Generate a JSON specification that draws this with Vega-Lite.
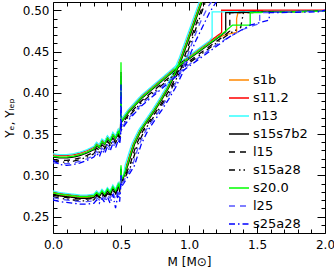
{
"$schema":"https://vega.github.io/schema/vega-lite/v6.json",
"width":272,"height":231,
"autosize":{"type":"none"},
"padding":{"left":53,"top":2,"right":9,"bottom":42},
"config":{"view":{"stroke":"black","strokeWidth":1},"font":"DejaVu Sans",
"axis":{"domain":false,"grid":false,"labelFlush":false,"tickColor":"black","labelColor":"black","titleColor":"black","labelFont":"DejaVu Sans","labelFontSize":12,"titleFont":"DejaVu Sans","titleFontSize":12,"titleFontWeight":"normal","tickWidth":1}},
"data":{"values":[
{"m":"s1b","c":"l","x":0,"y":0.323},{"m":"s1b","c":"l","x":0.05,"y":0.322},{"m":"s1b","c":"l","x":0.1,"y":0.322},{"m":"s1b","c":"l","x":0.15,"y":0.323},{"m":"s1b","c":"l","x":0.2,"y":0.325},{"m":"s1b","c":"l","x":0.25,"y":0.328},{"m":"s1b","c":"l","x":0.3,"y":0.332},{"m":"s1b","c":"l","x":0.32,"y":0.337},{"m":"s1b","c":"l","x":0.34,"y":0.334},{"m":"s1b","c":"l","x":0.36,"y":0.341},{"m":"s1b","c":"l","x":0.38,"y":0.338},{"m":"s1b","c":"l","x":0.4,"y":0.345},{"m":"s1b","c":"l","x":0.42,"y":0.341},{"m":"s1b","c":"l","x":0.44,"y":0.349},{"m":"s1b","c":"l","x":0.46,"y":0.345},{"m":"s1b","c":"l","x":0.48,"y":0.353},{"m":"s1b","c":"l","x":0.49,"y":0.35},{"m":"s1b","c":"l","x":0.497,"y":0.357},{"m":"s1b","c":"l","x":0.5,"y":0.42},{"m":"s1b","c":"l","x":0.503,"y":0.365},{"m":"s1b","c":"l","x":0.55,"y":0.376},{"m":"s1b","c":"l","x":0.6,"y":0.385},{"m":"s1b","c":"l","x":0.65,"y":0.394},{"m":"s1b","c":"l","x":0.7,"y":0.401},{"m":"s1b","c":"l","x":0.75,"y":0.408},{"m":"s1b","c":"l","x":0.8,"y":0.415},{"m":"s1b","c":"l","x":0.85,"y":0.422},{"m":"s1b","c":"l","x":0.9,"y":0.429},{"m":"s1b","c":"l","x":0.95,"y":0.436},{"m":"s1b","c":"l","x":1,"y":0.442},{"m":"s1b","c":"l","x":1.05,"y":0.448},{"m":"s1b","c":"l","x":1.1,"y":0.454},{"m":"s1b","c":"l","x":1.15,"y":0.46},{"m":"s1b","c":"l","x":1.2,"y":0.466},{"m":"s1b","c":"l","x":1.28,"y":0.471},{"m":"s1b","c":"l","x":1.35,"y":0.473},{"m":"s1b","c":"l","x":1.35,"y":0.49},{"m":"s1b","c":"l","x":1.36,"y":0.497},{"m":"s1b","c":"l","x":2,"y":0.499},
{"m":"s1b","c":"e","x":0,"y":0.278},{"m":"s1b","c":"e","x":0.05,"y":0.276},{"m":"s1b","c":"e","x":0.1,"y":0.275},{"m":"s1b","c":"e","x":0.15,"y":0.274},{"m":"s1b","c":"e","x":0.2,"y":0.273},{"m":"s1b","c":"e","x":0.25,"y":0.273},{"m":"s1b","c":"e","x":0.3,"y":0.274},{"m":"s1b","c":"e","x":0.32,"y":0.278},{"m":"s1b","c":"e","x":0.34,"y":0.275},{"m":"s1b","c":"e","x":0.36,"y":0.28},{"m":"s1b","c":"e","x":0.38,"y":0.276},{"m":"s1b","c":"e","x":0.4,"y":0.282},{"m":"s1b","c":"e","x":0.42,"y":0.278},{"m":"s1b","c":"e","x":0.44,"y":0.285},{"m":"s1b","c":"e","x":0.46,"y":0.28},{"m":"s1b","c":"e","x":0.48,"y":0.288},{"m":"s1b","c":"e","x":0.49,"y":0.284},{"m":"s1b","c":"e","x":0.497,"y":0.291},{"m":"s1b","c":"e","x":0.5,"y":0.305},{"m":"s1b","c":"e","x":0.503,"y":0.294},{"m":"s1b","c":"e","x":0.52,"y":0.298},{"m":"s1b","c":"e","x":0.55,"y":0.312},{"m":"s1b","c":"e","x":0.58,"y":0.328},{"m":"s1b","c":"e","x":0.6,"y":0.338},{"m":"s1b","c":"e","x":0.65,"y":0.355},{"m":"s1b","c":"e","x":0.7,"y":0.367},{"m":"s1b","c":"e","x":0.75,"y":0.379},{"m":"s1b","c":"e","x":0.8,"y":0.392},{"m":"s1b","c":"e","x":0.85,"y":0.406},{"m":"s1b","c":"e","x":0.9,"y":0.423},{"m":"s1b","c":"e","x":0.95,"y":0.443},{"m":"s1b","c":"e","x":1,"y":0.466},{"m":"s1b","c":"e","x":1.05,"y":0.489},{"m":"s1b","c":"e","x":1.1,"y":0.512},{"m":"s1b","c":"e","x":1.15,"y":0.535},
{"m":"s11.2","c":"l","x":0,"y":0.325},{"m":"s11.2","c":"l","x":0.05,"y":0.324},{"m":"s11.2","c":"l","x":0.1,"y":0.324},{"m":"s11.2","c":"l","x":0.15,"y":0.325},{"m":"s11.2","c":"l","x":0.2,"y":0.327},{"m":"s11.2","c":"l","x":0.25,"y":0.33},{"m":"s11.2","c":"l","x":0.3,"y":0.334},{"m":"s11.2","c":"l","x":0.32,"y":0.339},{"m":"s11.2","c":"l","x":0.34,"y":0.336},{"m":"s11.2","c":"l","x":0.36,"y":0.343},{"m":"s11.2","c":"l","x":0.38,"y":0.34},{"m":"s11.2","c":"l","x":0.4,"y":0.347},{"m":"s11.2","c":"l","x":0.42,"y":0.343},{"m":"s11.2","c":"l","x":0.44,"y":0.351},{"m":"s11.2","c":"l","x":0.46,"y":0.347},{"m":"s11.2","c":"l","x":0.48,"y":0.355},{"m":"s11.2","c":"l","x":0.49,"y":0.352},{"m":"s11.2","c":"l","x":0.497,"y":0.359},{"m":"s11.2","c":"l","x":0.5,"y":0.415},{"m":"s11.2","c":"l","x":0.503,"y":0.367},{"m":"s11.2","c":"l","x":0.55,"y":0.378},{"m":"s11.2","c":"l","x":0.6,"y":0.387},{"m":"s11.2","c":"l","x":0.65,"y":0.396},{"m":"s11.2","c":"l","x":0.7,"y":0.403},{"m":"s11.2","c":"l","x":0.75,"y":0.41},{"m":"s11.2","c":"l","x":0.8,"y":0.417},{"m":"s11.2","c":"l","x":0.85,"y":0.424},{"m":"s11.2","c":"l","x":0.9,"y":0.431},{"m":"s11.2","c":"l","x":0.95,"y":0.438},{"m":"s11.2","c":"l","x":1,"y":0.444},{"m":"s11.2","c":"l","x":1.05,"y":0.45},{"m":"s11.2","c":"l","x":1.1,"y":0.456},{"m":"s11.2","c":"l","x":1.15,"y":0.462},{"m":"s11.2","c":"l","x":1.2,"y":0.468},{"m":"s11.2","c":"l","x":1.24,"y":0.473},{"m":"s11.2","c":"l","x":1.24,"y":0.5},{"m":"s11.2","c":"l","x":2,"y":0.5},
{"m":"s11.2","c":"e","x":0,"y":0.28},{"m":"s11.2","c":"e","x":0.05,"y":0.278},{"m":"s11.2","c":"e","x":0.1,"y":0.277},{"m":"s11.2","c":"e","x":0.15,"y":0.276},{"m":"s11.2","c":"e","x":0.2,"y":0.275},{"m":"s11.2","c":"e","x":0.25,"y":0.275},{"m":"s11.2","c":"e","x":0.3,"y":0.276},{"m":"s11.2","c":"e","x":0.32,"y":0.28},{"m":"s11.2","c":"e","x":0.34,"y":0.277},{"m":"s11.2","c":"e","x":0.36,"y":0.282},{"m":"s11.2","c":"e","x":0.38,"y":0.278},{"m":"s11.2","c":"e","x":0.4,"y":0.284},{"m":"s11.2","c":"e","x":0.42,"y":0.28},{"m":"s11.2","c":"e","x":0.44,"y":0.287},{"m":"s11.2","c":"e","x":0.46,"y":0.282},{"m":"s11.2","c":"e","x":0.48,"y":0.29},{"m":"s11.2","c":"e","x":0.49,"y":0.286},{"m":"s11.2","c":"e","x":0.497,"y":0.293},{"m":"s11.2","c":"e","x":0.5,"y":0.3},{"m":"s11.2","c":"e","x":0.503,"y":0.296},{"m":"s11.2","c":"e","x":0.52,"y":0.3},{"m":"s11.2","c":"e","x":0.54,"y":0.312},{"m":"s11.2","c":"e","x":0.57,"y":0.328},{"m":"s11.2","c":"e","x":0.59,"y":0.338},{"m":"s11.2","c":"e","x":0.64,"y":0.355},{"m":"s11.2","c":"e","x":0.69,"y":0.367},{"m":"s11.2","c":"e","x":0.74,"y":0.379},{"m":"s11.2","c":"e","x":0.79,"y":0.392},{"m":"s11.2","c":"e","x":0.84,"y":0.406},{"m":"s11.2","c":"e","x":0.89,"y":0.423},{"m":"s11.2","c":"e","x":0.94,"y":0.443},{"m":"s11.2","c":"e","x":0.99,"y":0.466},{"m":"s11.2","c":"e","x":1.04,"y":0.489},{"m":"s11.2","c":"e","x":1.09,"y":0.512},{"m":"s11.2","c":"e","x":1.14,"y":0.535},
{"m":"n13","c":"l","x":0,"y":0.326},{"m":"n13","c":"l","x":0.05,"y":0.325},{"m":"n13","c":"l","x":0.1,"y":0.325},{"m":"n13","c":"l","x":0.15,"y":0.326},{"m":"n13","c":"l","x":0.2,"y":0.328},{"m":"n13","c":"l","x":0.25,"y":0.331},{"m":"n13","c":"l","x":0.3,"y":0.335},{"m":"n13","c":"l","x":0.32,"y":0.34},{"m":"n13","c":"l","x":0.34,"y":0.337},{"m":"n13","c":"l","x":0.36,"y":0.344},{"m":"n13","c":"l","x":0.38,"y":0.341},{"m":"n13","c":"l","x":0.4,"y":0.348},{"m":"n13","c":"l","x":0.42,"y":0.344},{"m":"n13","c":"l","x":0.44,"y":0.352},{"m":"n13","c":"l","x":0.46,"y":0.348},{"m":"n13","c":"l","x":0.48,"y":0.356},{"m":"n13","c":"l","x":0.49,"y":0.353},{"m":"n13","c":"l","x":0.497,"y":0.36},{"m":"n13","c":"l","x":0.5,"y":0.42},{"m":"n13","c":"l","x":0.503,"y":0.368},{"m":"n13","c":"l","x":0.55,"y":0.379},{"m":"n13","c":"l","x":0.6,"y":0.388},{"m":"n13","c":"l","x":0.65,"y":0.397},{"m":"n13","c":"l","x":0.7,"y":0.404},{"m":"n13","c":"l","x":0.75,"y":0.411},{"m":"n13","c":"l","x":0.8,"y":0.418},{"m":"n13","c":"l","x":0.85,"y":0.425},{"m":"n13","c":"l","x":0.9,"y":0.432},{"m":"n13","c":"l","x":0.95,"y":0.439},{"m":"n13","c":"l","x":1,"y":0.445},{"m":"n13","c":"l","x":1.05,"y":0.451},{"m":"n13","c":"l","x":1.1,"y":0.457},{"m":"n13","c":"l","x":1.15,"y":0.463},{"m":"n13","c":"l","x":1.17,"y":0.467},{"m":"n13","c":"l","x":1.17,"y":0.498},{"m":"n13","c":"l","x":2,"y":0.499},
{"m":"n13","c":"e","x":0,"y":0.281},{"m":"n13","c":"e","x":0.05,"y":0.279},{"m":"n13","c":"e","x":0.1,"y":0.278},{"m":"n13","c":"e","x":0.15,"y":0.277},{"m":"n13","c":"e","x":0.2,"y":0.276},{"m":"n13","c":"e","x":0.25,"y":0.276},{"m":"n13","c":"e","x":0.3,"y":0.277},{"m":"n13","c":"e","x":0.32,"y":0.281},{"m":"n13","c":"e","x":0.34,"y":0.278},{"m":"n13","c":"e","x":0.36,"y":0.283},{"m":"n13","c":"e","x":0.38,"y":0.279},{"m":"n13","c":"e","x":0.4,"y":0.285},{"m":"n13","c":"e","x":0.42,"y":0.281},{"m":"n13","c":"e","x":0.44,"y":0.288},{"m":"n13","c":"e","x":0.46,"y":0.283},{"m":"n13","c":"e","x":0.48,"y":0.291},{"m":"n13","c":"e","x":0.49,"y":0.287},{"m":"n13","c":"e","x":0.497,"y":0.294},{"m":"n13","c":"e","x":0.5,"y":0.31},{"m":"n13","c":"e","x":0.503,"y":0.297},{"m":"n13","c":"e","x":0.52,"y":0.301},{"m":"n13","c":"e","x":0.53,"y":0.312},{"m":"n13","c":"e","x":0.56,"y":0.328},{"m":"n13","c":"e","x":0.58,"y":0.338},{"m":"n13","c":"e","x":0.63,"y":0.355},{"m":"n13","c":"e","x":0.68,"y":0.367},{"m":"n13","c":"e","x":0.73,"y":0.379},{"m":"n13","c":"e","x":0.78,"y":0.392},{"m":"n13","c":"e","x":0.83,"y":0.406},{"m":"n13","c":"e","x":0.88,"y":0.423},{"m":"n13","c":"e","x":0.93,"y":0.443},{"m":"n13","c":"e","x":0.98,"y":0.466},{"m":"n13","c":"e","x":1.03,"y":0.489},{"m":"n13","c":"e","x":1.08,"y":0.512},{"m":"n13","c":"e","x":1.13,"y":0.535},
{"m":"s15s7b2","c":"l","x":0,"y":0.322},{"m":"s15s7b2","c":"l","x":0.05,"y":0.321},{"m":"s15s7b2","c":"l","x":0.1,"y":0.321},{"m":"s15s7b2","c":"l","x":0.15,"y":0.322},{"m":"s15s7b2","c":"l","x":0.2,"y":0.324},{"m":"s15s7b2","c":"l","x":0.25,"y":0.327},{"m":"s15s7b2","c":"l","x":0.3,"y":0.331},{"m":"s15s7b2","c":"l","x":0.32,"y":0.336},{"m":"s15s7b2","c":"l","x":0.34,"y":0.333},{"m":"s15s7b2","c":"l","x":0.36,"y":0.34},{"m":"s15s7b2","c":"l","x":0.38,"y":0.337},{"m":"s15s7b2","c":"l","x":0.4,"y":0.344},{"m":"s15s7b2","c":"l","x":0.42,"y":0.34},{"m":"s15s7b2","c":"l","x":0.44,"y":0.348},{"m":"s15s7b2","c":"l","x":0.46,"y":0.344},{"m":"s15s7b2","c":"l","x":0.48,"y":0.352},{"m":"s15s7b2","c":"l","x":0.49,"y":0.349},{"m":"s15s7b2","c":"l","x":0.497,"y":0.356},{"m":"s15s7b2","c":"l","x":0.5,"y":0.425},{"m":"s15s7b2","c":"l","x":0.503,"y":0.364},{"m":"s15s7b2","c":"l","x":0.55,"y":0.375},{"m":"s15s7b2","c":"l","x":0.6,"y":0.384},{"m":"s15s7b2","c":"l","x":0.65,"y":0.393},{"m":"s15s7b2","c":"l","x":0.7,"y":0.4},{"m":"s15s7b2","c":"l","x":0.75,"y":0.407},{"m":"s15s7b2","c":"l","x":0.8,"y":0.414},{"m":"s15s7b2","c":"l","x":0.85,"y":0.421},{"m":"s15s7b2","c":"l","x":0.9,"y":0.428},{"m":"s15s7b2","c":"l","x":0.95,"y":0.435},{"m":"s15s7b2","c":"l","x":1,"y":0.441},{"m":"s15s7b2","c":"l","x":1.05,"y":0.447},{"m":"s15s7b2","c":"l","x":1.1,"y":0.453},{"m":"s15s7b2","c":"l","x":1.15,"y":0.459},{"m":"s15s7b2","c":"l","x":1.2,"y":0.465},{"m":"s15s7b2","c":"l","x":1.27,"y":0.474},{"m":"s15s7b2","c":"l","x":1.27,"y":0.497},{"m":"s15s7b2","c":"l","x":2,"y":0.499},
{"m":"s15s7b2","c":"e","x":0,"y":0.277},{"m":"s15s7b2","c":"e","x":0.05,"y":0.275},{"m":"s15s7b2","c":"e","x":0.1,"y":0.274},{"m":"s15s7b2","c":"e","x":0.15,"y":0.273},{"m":"s15s7b2","c":"e","x":0.2,"y":0.272},{"m":"s15s7b2","c":"e","x":0.25,"y":0.272},{"m":"s15s7b2","c":"e","x":0.3,"y":0.273},{"m":"s15s7b2","c":"e","x":0.32,"y":0.277},{"m":"s15s7b2","c":"e","x":0.34,"y":0.274},{"m":"s15s7b2","c":"e","x":0.36,"y":0.279},{"m":"s15s7b2","c":"e","x":0.38,"y":0.275},{"m":"s15s7b2","c":"e","x":0.4,"y":0.281},{"m":"s15s7b2","c":"e","x":0.42,"y":0.277},{"m":"s15s7b2","c":"e","x":0.44,"y":0.284},{"m":"s15s7b2","c":"e","x":0.46,"y":0.279},{"m":"s15s7b2","c":"e","x":0.48,"y":0.287},{"m":"s15s7b2","c":"e","x":0.49,"y":0.283},{"m":"s15s7b2","c":"e","x":0.497,"y":0.29},{"m":"s15s7b2","c":"e","x":0.5,"y":0.308},{"m":"s15s7b2","c":"e","x":0.503,"y":0.293},{"m":"s15s7b2","c":"e","x":0.52,"y":0.298},{"m":"s15s7b2","c":"e","x":0.55,"y":0.312},{"m":"s15s7b2","c":"e","x":0.58,"y":0.328},{"m":"s15s7b2","c":"e","x":0.6,"y":0.338},{"m":"s15s7b2","c":"e","x":0.65,"y":0.355},{"m":"s15s7b2","c":"e","x":0.7,"y":0.367},{"m":"s15s7b2","c":"e","x":0.75,"y":0.379},{"m":"s15s7b2","c":"e","x":0.8,"y":0.392},{"m":"s15s7b2","c":"e","x":0.85,"y":0.406},{"m":"s15s7b2","c":"e","x":0.9,"y":0.423},{"m":"s15s7b2","c":"e","x":0.95,"y":0.443},{"m":"s15s7b2","c":"e","x":1,"y":0.466},{"m":"s15s7b2","c":"e","x":1.05,"y":0.489},{"m":"s15s7b2","c":"e","x":1.1,"y":0.512},{"m":"s15s7b2","c":"e","x":1.15,"y":0.535},
{"m":"l15","c":"l","x":0,"y":0.319},{"m":"l15","c":"l","x":0.05,"y":0.318},{"m":"l15","c":"l","x":0.1,"y":0.318},{"m":"l15","c":"l","x":0.15,"y":0.319},{"m":"l15","c":"l","x":0.2,"y":0.321},{"m":"l15","c":"l","x":0.25,"y":0.324},{"m":"l15","c":"l","x":0.3,"y":0.328},{"m":"l15","c":"l","x":0.32,"y":0.333},{"m":"l15","c":"l","x":0.34,"y":0.33},{"m":"l15","c":"l","x":0.36,"y":0.337},{"m":"l15","c":"l","x":0.38,"y":0.334},{"m":"l15","c":"l","x":0.4,"y":0.341},{"m":"l15","c":"l","x":0.42,"y":0.337},{"m":"l15","c":"l","x":0.44,"y":0.345},{"m":"l15","c":"l","x":0.46,"y":0.341},{"m":"l15","c":"l","x":0.48,"y":0.349},{"m":"l15","c":"l","x":0.49,"y":0.346},{"m":"l15","c":"l","x":0.497,"y":0.353},{"m":"l15","c":"l","x":0.5,"y":0.4},{"m":"l15","c":"l","x":0.503,"y":0.361},{"m":"l15","c":"l","x":0.55,"y":0.372},{"m":"l15","c":"l","x":0.6,"y":0.381},{"m":"l15","c":"l","x":0.65,"y":0.39},{"m":"l15","c":"l","x":0.7,"y":0.397},{"m":"l15","c":"l","x":0.75,"y":0.404},{"m":"l15","c":"l","x":0.8,"y":0.411},{"m":"l15","c":"l","x":0.85,"y":0.418},{"m":"l15","c":"l","x":0.9,"y":0.425},{"m":"l15","c":"l","x":0.95,"y":0.432},{"m":"l15","c":"l","x":1,"y":0.438},{"m":"l15","c":"l","x":1.05,"y":0.444},{"m":"l15","c":"l","x":1.1,"y":0.45},{"m":"l15","c":"l","x":1.15,"y":0.456},{"m":"l15","c":"l","x":1.2,"y":0.462},{"m":"l15","c":"l","x":1.25,"y":0.468},{"m":"l15","c":"l","x":1.3,"y":0.475},{"m":"l15","c":"l","x":1.3,"y":0.497},{"m":"l15","c":"l","x":2,"y":0.499},
{"m":"l15","c":"e","x":0,"y":0.276},{"m":"l15","c":"e","x":0.05,"y":0.274},{"m":"l15","c":"e","x":0.1,"y":0.273},{"m":"l15","c":"e","x":0.15,"y":0.272},{"m":"l15","c":"e","x":0.2,"y":0.271},{"m":"l15","c":"e","x":0.25,"y":0.271},{"m":"l15","c":"e","x":0.3,"y":0.272},{"m":"l15","c":"e","x":0.32,"y":0.276},{"m":"l15","c":"e","x":0.34,"y":0.273},{"m":"l15","c":"e","x":0.36,"y":0.278},{"m":"l15","c":"e","x":0.38,"y":0.274},{"m":"l15","c":"e","x":0.4,"y":0.28},{"m":"l15","c":"e","x":0.42,"y":0.276},{"m":"l15","c":"e","x":0.44,"y":0.283},{"m":"l15","c":"e","x":0.46,"y":0.278},{"m":"l15","c":"e","x":0.48,"y":0.286},{"m":"l15","c":"e","x":0.49,"y":0.282},{"m":"l15","c":"e","x":0.497,"y":0.289},{"m":"l15","c":"e","x":0.5,"y":0.3},{"m":"l15","c":"e","x":0.503,"y":0.292},{"m":"l15","c":"e","x":0.52,"y":0.296},{"m":"l15","c":"e","x":0.565,"y":0.312},{"m":"l15","c":"e","x":0.595,"y":0.328},{"m":"l15","c":"e","x":0.615,"y":0.338},{"m":"l15","c":"e","x":0.665,"y":0.355},{"m":"l15","c":"e","x":0.715,"y":0.367},{"m":"l15","c":"e","x":0.765,"y":0.379},{"m":"l15","c":"e","x":0.815,"y":0.392},{"m":"l15","c":"e","x":0.865,"y":0.406},{"m":"l15","c":"e","x":0.915,"y":0.423},{"m":"l15","c":"e","x":0.965,"y":0.443},{"m":"l15","c":"e","x":1.015,"y":0.466},{"m":"l15","c":"e","x":1.065,"y":0.489},{"m":"l15","c":"e","x":1.115,"y":0.512},{"m":"l15","c":"e","x":1.165,"y":0.535},
{"m":"s15a28","c":"l","x":0,"y":0.317},{"m":"s15a28","c":"l","x":0.05,"y":0.316},{"m":"s15a28","c":"l","x":0.1,"y":0.316},{"m":"s15a28","c":"l","x":0.15,"y":0.317},{"m":"s15a28","c":"l","x":0.2,"y":0.319},{"m":"s15a28","c":"l","x":0.25,"y":0.322},{"m":"s15a28","c":"l","x":0.3,"y":0.326},{"m":"s15a28","c":"l","x":0.32,"y":0.331},{"m":"s15a28","c":"l","x":0.34,"y":0.328},{"m":"s15a28","c":"l","x":0.36,"y":0.335},{"m":"s15a28","c":"l","x":0.38,"y":0.332},{"m":"s15a28","c":"l","x":0.4,"y":0.339},{"m":"s15a28","c":"l","x":0.42,"y":0.335},{"m":"s15a28","c":"l","x":0.44,"y":0.343},{"m":"s15a28","c":"l","x":0.46,"y":0.339},{"m":"s15a28","c":"l","x":0.48,"y":0.347},{"m":"s15a28","c":"l","x":0.49,"y":0.344},{"m":"s15a28","c":"l","x":0.497,"y":0.351},{"m":"s15a28","c":"l","x":0.5,"y":0.395},{"m":"s15a28","c":"l","x":0.503,"y":0.359},{"m":"s15a28","c":"l","x":0.55,"y":0.37},{"m":"s15a28","c":"l","x":0.6,"y":0.379},{"m":"s15a28","c":"l","x":0.65,"y":0.388},{"m":"s15a28","c":"l","x":0.7,"y":0.395},{"m":"s15a28","c":"l","x":0.75,"y":0.402},{"m":"s15a28","c":"l","x":0.8,"y":0.409},{"m":"s15a28","c":"l","x":0.85,"y":0.416},{"m":"s15a28","c":"l","x":0.9,"y":0.423},{"m":"s15a28","c":"l","x":0.95,"y":0.43},{"m":"s15a28","c":"l","x":1,"y":0.436},{"m":"s15a28","c":"l","x":1.05,"y":0.442},{"m":"s15a28","c":"l","x":1.1,"y":0.448},{"m":"s15a28","c":"l","x":1.15,"y":0.454},{"m":"s15a28","c":"l","x":1.2,"y":0.46},{"m":"s15a28","c":"l","x":1.25,"y":0.466},{"m":"s15a28","c":"l","x":1.3,"y":0.472},{"m":"s15a28","c":"l","x":1.38,"y":0.479},{"m":"s15a28","c":"l","x":1.4,"y":0.497},{"m":"s15a28","c":"l","x":2,"y":0.499},
{"m":"s15a28","c":"e","x":0,"y":0.274},{"m":"s15a28","c":"e","x":0.05,"y":0.272},{"m":"s15a28","c":"e","x":0.1,"y":0.271},{"m":"s15a28","c":"e","x":0.15,"y":0.27},{"m":"s15a28","c":"e","x":0.2,"y":0.269},{"m":"s15a28","c":"e","x":0.25,"y":0.269},{"m":"s15a28","c":"e","x":0.3,"y":0.27},{"m":"s15a28","c":"e","x":0.32,"y":0.274},{"m":"s15a28","c":"e","x":0.34,"y":0.271},{"m":"s15a28","c":"e","x":0.36,"y":0.276},{"m":"s15a28","c":"e","x":0.38,"y":0.272},{"m":"s15a28","c":"e","x":0.4,"y":0.278},{"m":"s15a28","c":"e","x":0.42,"y":0.274},{"m":"s15a28","c":"e","x":0.44,"y":0.281},{"m":"s15a28","c":"e","x":0.46,"y":0.276},{"m":"s15a28","c":"e","x":0.48,"y":0.284},{"m":"s15a28","c":"e","x":0.49,"y":0.28},{"m":"s15a28","c":"e","x":0.497,"y":0.287},{"m":"s15a28","c":"e","x":0.5,"y":0.298},{"m":"s15a28","c":"e","x":0.503,"y":0.29},{"m":"s15a28","c":"e","x":0.52,"y":0.294},{"m":"s15a28","c":"e","x":0.575,"y":0.312},{"m":"s15a28","c":"e","x":0.605,"y":0.328},{"m":"s15a28","c":"e","x":0.625,"y":0.338},{"m":"s15a28","c":"e","x":0.675,"y":0.355},{"m":"s15a28","c":"e","x":0.725,"y":0.367},{"m":"s15a28","c":"e","x":0.775,"y":0.379},{"m":"s15a28","c":"e","x":0.825,"y":0.392},{"m":"s15a28","c":"e","x":0.875,"y":0.406},{"m":"s15a28","c":"e","x":0.925,"y":0.423},{"m":"s15a28","c":"e","x":0.975,"y":0.443},{"m":"s15a28","c":"e","x":1.025,"y":0.466},{"m":"s15a28","c":"e","x":1.075,"y":0.489},{"m":"s15a28","c":"e","x":1.125,"y":0.512},{"m":"s15a28","c":"e","x":1.175,"y":0.535},
{"m":"s20.0","c":"l","x":0,"y":0.323},{"m":"s20.0","c":"l","x":0.05,"y":0.322},{"m":"s20.0","c":"l","x":0.1,"y":0.322},{"m":"s20.0","c":"l","x":0.15,"y":0.323},{"m":"s20.0","c":"l","x":0.2,"y":0.325},{"m":"s20.0","c":"l","x":0.25,"y":0.328},{"m":"s20.0","c":"l","x":0.3,"y":0.332},{"m":"s20.0","c":"l","x":0.32,"y":0.337},{"m":"s20.0","c":"l","x":0.34,"y":0.334},{"m":"s20.0","c":"l","x":0.36,"y":0.341},{"m":"s20.0","c":"l","x":0.38,"y":0.338},{"m":"s20.0","c":"l","x":0.4,"y":0.345},{"m":"s20.0","c":"l","x":0.42,"y":0.341},{"m":"s20.0","c":"l","x":0.44,"y":0.349},{"m":"s20.0","c":"l","x":0.46,"y":0.345},{"m":"s20.0","c":"l","x":0.48,"y":0.353},{"m":"s20.0","c":"l","x":0.49,"y":0.35},{"m":"s20.0","c":"l","x":0.497,"y":0.357},{"m":"s20.0","c":"l","x":0.5,"y":0.437},{"m":"s20.0","c":"l","x":0.503,"y":0.365},{"m":"s20.0","c":"l","x":0.55,"y":0.376},{"m":"s20.0","c":"l","x":0.6,"y":0.385},{"m":"s20.0","c":"l","x":0.65,"y":0.394},{"m":"s20.0","c":"l","x":0.7,"y":0.401},{"m":"s20.0","c":"l","x":0.75,"y":0.408},{"m":"s20.0","c":"l","x":0.8,"y":0.415},{"m":"s20.0","c":"l","x":0.85,"y":0.422},{"m":"s20.0","c":"l","x":0.9,"y":0.429},{"m":"s20.0","c":"l","x":0.95,"y":0.436},{"m":"s20.0","c":"l","x":1,"y":0.442},{"m":"s20.0","c":"l","x":1.05,"y":0.448},{"m":"s20.0","c":"l","x":1.1,"y":0.454},{"m":"s20.0","c":"l","x":1.15,"y":0.46},{"m":"s20.0","c":"l","x":1.2,"y":0.466},{"m":"s20.0","c":"l","x":1.25,"y":0.472},{"m":"s20.0","c":"l","x":1.32,"y":0.482},{"m":"s20.0","c":"l","x":1.45,"y":0.482},{"m":"s20.0","c":"l","x":1.45,"y":0.497},{"m":"s20.0","c":"l","x":2,"y":0.499},
{"m":"s20.0","c":"e","x":0,"y":0.279},{"m":"s20.0","c":"e","x":0.05,"y":0.277},{"m":"s20.0","c":"e","x":0.1,"y":0.276},{"m":"s20.0","c":"e","x":0.15,"y":0.275},{"m":"s20.0","c":"e","x":0.2,"y":0.274},{"m":"s20.0","c":"e","x":0.25,"y":0.274},{"m":"s20.0","c":"e","x":0.3,"y":0.275},{"m":"s20.0","c":"e","x":0.32,"y":0.279},{"m":"s20.0","c":"e","x":0.34,"y":0.276},{"m":"s20.0","c":"e","x":0.36,"y":0.281},{"m":"s20.0","c":"e","x":0.38,"y":0.277},{"m":"s20.0","c":"e","x":0.4,"y":0.283},{"m":"s20.0","c":"e","x":0.42,"y":0.279},{"m":"s20.0","c":"e","x":0.44,"y":0.286},{"m":"s20.0","c":"e","x":0.46,"y":0.281},{"m":"s20.0","c":"e","x":0.48,"y":0.289},{"m":"s20.0","c":"e","x":0.49,"y":0.285},{"m":"s20.0","c":"e","x":0.497,"y":0.292},{"m":"s20.0","c":"e","x":0.5,"y":0.312},{"m":"s20.0","c":"e","x":0.503,"y":0.295},{"m":"s20.0","c":"e","x":0.52,"y":0.299},{"m":"s20.0","c":"e","x":0.545,"y":0.312},{"m":"s20.0","c":"e","x":0.575,"y":0.328},{"m":"s20.0","c":"e","x":0.595,"y":0.338},{"m":"s20.0","c":"e","x":0.645,"y":0.355},{"m":"s20.0","c":"e","x":0.695,"y":0.367},{"m":"s20.0","c":"e","x":0.745,"y":0.379},{"m":"s20.0","c":"e","x":0.795,"y":0.392},{"m":"s20.0","c":"e","x":0.845,"y":0.406},{"m":"s20.0","c":"e","x":0.895,"y":0.423},{"m":"s20.0","c":"e","x":0.945,"y":0.443},{"m":"s20.0","c":"e","x":0.995,"y":0.466},{"m":"s20.0","c":"e","x":1.045,"y":0.489},{"m":"s20.0","c":"e","x":1.095,"y":0.512},{"m":"s20.0","c":"e","x":1.145,"y":0.535},
{"m":"l25","c":"l","x":0,"y":0.315},{"m":"l25","c":"l","x":0.05,"y":0.314},{"m":"l25","c":"l","x":0.1,"y":0.314},{"m":"l25","c":"l","x":0.15,"y":0.315},{"m":"l25","c":"l","x":0.2,"y":0.317},{"m":"l25","c":"l","x":0.25,"y":0.32},{"m":"l25","c":"l","x":0.3,"y":0.324},{"m":"l25","c":"l","x":0.32,"y":0.329},{"m":"l25","c":"l","x":0.34,"y":0.326},{"m":"l25","c":"l","x":0.36,"y":0.333},{"m":"l25","c":"l","x":0.38,"y":0.33},{"m":"l25","c":"l","x":0.4,"y":0.337},{"m":"l25","c":"l","x":0.42,"y":0.333},{"m":"l25","c":"l","x":0.44,"y":0.341},{"m":"l25","c":"l","x":0.46,"y":0.337},{"m":"l25","c":"l","x":0.48,"y":0.345},{"m":"l25","c":"l","x":0.49,"y":0.342},{"m":"l25","c":"l","x":0.497,"y":0.349},{"m":"l25","c":"l","x":0.5,"y":0.405},{"m":"l25","c":"l","x":0.503,"y":0.357},{"m":"l25","c":"l","x":0.55,"y":0.368},{"m":"l25","c":"l","x":0.6,"y":0.377},{"m":"l25","c":"l","x":0.65,"y":0.386},{"m":"l25","c":"l","x":0.7,"y":0.393},{"m":"l25","c":"l","x":0.75,"y":0.4},{"m":"l25","c":"l","x":0.8,"y":0.407},{"m":"l25","c":"l","x":0.85,"y":0.414},{"m":"l25","c":"l","x":0.9,"y":0.421},{"m":"l25","c":"l","x":0.95,"y":0.428},{"m":"l25","c":"l","x":1,"y":0.434},{"m":"l25","c":"l","x":1.05,"y":0.44},{"m":"l25","c":"l","x":1.1,"y":0.446},{"m":"l25","c":"l","x":1.15,"y":0.452},{"m":"l25","c":"l","x":1.2,"y":0.458},{"m":"l25","c":"l","x":1.3,"y":0.468},{"m":"l25","c":"l","x":1.4,"y":0.477},{"m":"l25","c":"l","x":1.52,"y":0.484},{"m":"l25","c":"l","x":1.52,"y":0.497},{"m":"l25","c":"l","x":2,"y":0.499},
{"m":"l25","c":"e","x":0,"y":0.273},{"m":"l25","c":"e","x":0.05,"y":0.271},{"m":"l25","c":"e","x":0.1,"y":0.27},{"m":"l25","c":"e","x":0.15,"y":0.269},{"m":"l25","c":"e","x":0.2,"y":0.268},{"m":"l25","c":"e","x":0.25,"y":0.268},{"m":"l25","c":"e","x":0.3,"y":0.269},{"m":"l25","c":"e","x":0.32,"y":0.273},{"m":"l25","c":"e","x":0.34,"y":0.27},{"m":"l25","c":"e","x":0.36,"y":0.275},{"m":"l25","c":"e","x":0.38,"y":0.271},{"m":"l25","c":"e","x":0.4,"y":0.277},{"m":"l25","c":"e","x":0.42,"y":0.272},{"m":"l25","c":"e","x":0.44,"y":0.28},{"m":"l25","c":"e","x":0.46,"y":0.27},{"m":"l25","c":"e","x":0.48,"y":0.283},{"m":"l25","c":"e","x":0.49,"y":0.276},{"m":"l25","c":"e","x":0.497,"y":0.286},{"m":"l25","c":"e","x":0.5,"y":0.3},{"m":"l25","c":"e","x":0.503,"y":0.289},{"m":"l25","c":"e","x":0.52,"y":0.293},{"m":"l25","c":"e","x":0.585,"y":0.312},{"m":"l25","c":"e","x":0.615,"y":0.328},{"m":"l25","c":"e","x":0.635,"y":0.338},{"m":"l25","c":"e","x":0.685,"y":0.355},{"m":"l25","c":"e","x":0.735,"y":0.367},{"m":"l25","c":"e","x":0.785,"y":0.379},{"m":"l25","c":"e","x":0.835,"y":0.392},{"m":"l25","c":"e","x":0.885,"y":0.406},{"m":"l25","c":"e","x":0.935,"y":0.423},{"m":"l25","c":"e","x":0.985,"y":0.443},{"m":"l25","c":"e","x":1.035,"y":0.466},{"m":"l25","c":"e","x":1.085,"y":0.486},{"m":"l25","c":"e","x":1.135,"y":0.503},{"m":"l25","c":"e","x":1.185,"y":0.515},{"m":"l25","c":"e","x":1.25,"y":0.525},
{"m":"s25a28","c":"l","x":0,"y":0.318},{"m":"s25a28","c":"l","x":0.05,"y":0.313},{"m":"s25a28","c":"l","x":0.1,"y":0.312},{"m":"s25a28","c":"l","x":0.15,"y":0.313},{"m":"s25a28","c":"l","x":0.2,"y":0.315},{"m":"s25a28","c":"l","x":0.25,"y":0.318},{"m":"s25a28","c":"l","x":0.3,"y":0.322},{"m":"s25a28","c":"l","x":0.32,"y":0.327},{"m":"s25a28","c":"l","x":0.34,"y":0.322},{"m":"s25a28","c":"l","x":0.36,"y":0.331},{"m":"s25a28","c":"l","x":0.38,"y":0.326},{"m":"s25a28","c":"l","x":0.4,"y":0.335},{"m":"s25a28","c":"l","x":0.42,"y":0.329},{"m":"s25a28","c":"l","x":0.44,"y":0.339},{"m":"s25a28","c":"l","x":0.46,"y":0.333},{"m":"s25a28","c":"l","x":0.48,"y":0.343},{"m":"s25a28","c":"l","x":0.49,"y":0.338},{"m":"s25a28","c":"l","x":0.497,"y":0.347},{"m":"s25a28","c":"l","x":0.5,"y":0.41},{"m":"s25a28","c":"l","x":0.503,"y":0.355},{"m":"s25a28","c":"l","x":0.55,"y":0.366},{"m":"s25a28","c":"l","x":0.6,"y":0.375},{"m":"s25a28","c":"l","x":0.65,"y":0.384},{"m":"s25a28","c":"l","x":0.7,"y":0.391},{"m":"s25a28","c":"l","x":0.75,"y":0.398},{"m":"s25a28","c":"l","x":0.8,"y":0.405},{"m":"s25a28","c":"l","x":0.85,"y":0.412},{"m":"s25a28","c":"l","x":0.9,"y":0.419},{"m":"s25a28","c":"l","x":0.95,"y":0.426},{"m":"s25a28","c":"l","x":1,"y":0.432},{"m":"s25a28","c":"l","x":1.05,"y":0.438},{"m":"s25a28","c":"l","x":1.1,"y":0.444},{"m":"s25a28","c":"l","x":1.15,"y":0.45},{"m":"s25a28","c":"l","x":1.2,"y":0.456},{"m":"s25a28","c":"l","x":1.3,"y":0.468},{"m":"s25a28","c":"l","x":1.45,"y":0.482},{"m":"s25a28","c":"l","x":1.59,"y":0.488},{"m":"s25a28","c":"l","x":1.59,"y":0.497},{"m":"s25a28","c":"l","x":1.95,"y":0.498},{"m":"s25a28","c":"l","x":2,"y":0.5},
{"m":"s25a28","c":"e","x":0,"y":0.27},{"m":"s25a28","c":"e","x":0.05,"y":0.268},{"m":"s25a28","c":"e","x":0.1,"y":0.267},{"m":"s25a28","c":"e","x":0.15,"y":0.266},{"m":"s25a28","c":"e","x":0.2,"y":0.265},{"m":"s25a28","c":"e","x":0.25,"y":0.265},{"m":"s25a28","c":"e","x":0.3,"y":0.266},{"m":"s25a28","c":"e","x":0.32,"y":0.27},{"m":"s25a28","c":"e","x":0.34,"y":0.266},{"m":"s25a28","c":"e","x":0.36,"y":0.272},{"m":"s25a28","c":"e","x":0.38,"y":0.267},{"m":"s25a28","c":"e","x":0.4,"y":0.274},{"m":"s25a28","c":"e","x":0.42,"y":0.266},{"m":"s25a28","c":"e","x":0.44,"y":0.277},{"m":"s25a28","c":"e","x":0.46,"y":0.26},{"m":"s25a28","c":"e","x":0.48,"y":0.279},{"m":"s25a28","c":"e","x":0.49,"y":0.268},{"m":"s25a28","c":"e","x":0.497,"y":0.283},{"m":"s25a28","c":"e","x":0.5,"y":0.3},{"m":"s25a28","c":"e","x":0.503,"y":0.286},{"m":"s25a28","c":"e","x":0.52,"y":0.29},{"m":"s25a28","c":"e","x":0.6,"y":0.312},{"m":"s25a28","c":"e","x":0.63,"y":0.328},{"m":"s25a28","c":"e","x":0.65,"y":0.338},{"m":"s25a28","c":"e","x":0.7,"y":0.355},{"m":"s25a28","c":"e","x":0.75,"y":0.367},{"m":"s25a28","c":"e","x":0.8,"y":0.379},{"m":"s25a28","c":"e","x":0.85,"y":0.392},{"m":"s25a28","c":"e","x":0.9,"y":0.406},{"m":"s25a28","c":"e","x":0.95,"y":0.423},{"m":"s25a28","c":"e","x":1,"y":0.443},{"m":"s25a28","c":"e","x":1.05,"y":0.463},{"m":"s25a28","c":"e","x":1.1,"y":0.48},{"m":"s25a28","c":"e","x":1.15,"y":0.497},{"m":"s25a28","c":"e","x":1.2,"y":0.51},{"m":"s25a28","c":"e","x":1.27,"y":0.52}
]},
"layer":[
{"mark":{"type":"line","clip":true,"strokeWidth":1.3},
"encoding":{
"x":{"field":"x","type":"quantitative","scale":{"domain":[0,2],"nice":false,"zero":false},"axis":{"orient":"bottom","values":[0,0.5,1,1.5,2],"format":".1f","tickSize":-8,"labelPadding":14,"title":"M [M⊙]","titlePadding":6}},
"y":{"field":"y","type":"quantitative","scale":{"domain":[0.23,0.51],"nice":false,"zero":false},"axis":{"orient":"left","values":[0.25,0.3,0.35,0.4,0.45,0.5],"format":".2f","tickSize":-8,"labelPadding":12,"title":"Yₑ, Yₗₑₚ","titlePadding":6}},
"color":{"field":"m","type":"nominal","scale":{"domain":["s1b","s11.2","n13","s15s7b2","l15","s15a28","s20.0","l25","s25a28"],"range":["#FF8800","#FF0000","#33FFFF","#000000","#000000","#000000","#00FF00","#5555FF","#0000FF"]},"legend":{"orient":"none","legendX":175,"legendY":67,"title":null,"symbolType":"stroke","symbolSize":400,"symbolStrokeWidth":1.5,"labelFontSize":13,"labelFont":"DejaVu Sans","labelColor":"black","rowPadding":-2.7,"labelOffset":3,"padding":0}},
"strokeDash":{"field":"m","type":"nominal","scale":{"domain":["s1b","s11.2","n13","s15s7b2","l15","s15a28","s20.0","l25","s25a28"],"range":[[1,0],[1,0],[1,0],[1,0],[6,5],[6,4,1.5,3,1.5,4],[1,0],[6,5],[6,3,1.5,3]]},"legend":{"orient":"none","legendX":175,"legendY":67,"title":null,"symbolType":"stroke","symbolSize":400,"symbolStrokeWidth":1.5,"labelFontSize":13,"labelFont":"DejaVu Sans","labelColor":"black","rowPadding":-2.7,"labelOffset":3,"padding":0}},
"detail":{"field":"c","type":"nominal"}}},
{"mark":{"type":"point","opacity":0},
"encoding":{
"x":{"field":"x","type":"quantitative","scale":{"domain":[0,2],"nice":false,"zero":false},"axis":{"orient":"bottom","values":[0.1,0.2,0.3,0.4,0.6,0.7,0.8,0.9,1.1,1.2,1.3,1.4,1.6,1.7,1.8,1.9],"labels":false,"tickSize":-4,"title":null}},
"y":{"field":"y","type":"quantitative","scale":{"domain":[0.23,0.51],"nice":false,"zero":false},"axis":{"orient":"left","values":[0.24,0.26,0.27,0.28,0.29,0.31,0.32,0.33,0.34,0.36,0.37,0.38,0.39,0.41,0.42,0.43,0.44,0.46,0.47,0.48,0.49],"labels":false,"tickSize":-4,"title":null}}}},
{"mark":{"type":"point","opacity":0},
"encoding":{
"x":{"field":"x","type":"quantitative","scale":{"domain":[0,2],"nice":false,"zero":false},"axis":{"orient":"top","values":[0,0.5,1,1.5,2],"labels":false,"tickSize":-8,"title":null}},
"y":{"field":"y","type":"quantitative","scale":{"domain":[0.23,0.51],"nice":false,"zero":false},"axis":{"orient":"right","values":[0.25,0.3,0.35,0.4,0.45,0.5],"labels":false,"tickSize":-8,"title":null}}}},
{"mark":{"type":"point","opacity":0},
"encoding":{
"x":{"field":"x","type":"quantitative","scale":{"domain":[0,2],"nice":false,"zero":false},"axis":{"orient":"top","values":[0.1,0.2,0.3,0.4,0.6,0.7,0.8,0.9,1.1,1.2,1.3,1.4,1.6,1.7,1.8,1.9],"labels":false,"tickSize":-4,"title":null}},
"y":{"field":"y","type":"quantitative","scale":{"domain":[0.23,0.51],"nice":false,"zero":false},"axis":{"orient":"right","values":[0.24,0.26,0.27,0.28,0.29,0.31,0.32,0.33,0.34,0.36,0.37,0.38,0.39,0.41,0.42,0.43,0.44,0.46,0.47,0.48,0.49],"labels":false,"tickSize":-4,"title":null}}}}
],
"resolve":{"axis":{"x":"independent","y":"independent"}}
}
